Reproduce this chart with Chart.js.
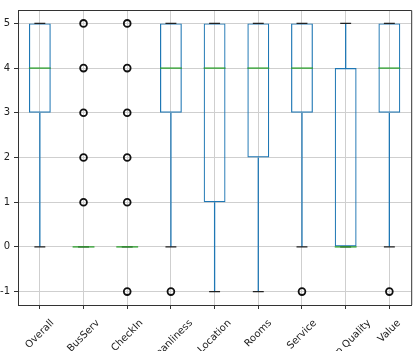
<!DOCTYPE html>
<html>
<head>
<meta charset="utf-8">
<script src="https://cdn.jsdelivr.net/npm/chart.js@4"></script>
<style>
  body { margin: 0; background: #fff; overflow: hidden; }
</style>
</head>
<body>
<canvas id="myChart" width="417" height="351"></canvas>
<script>
// box plot data, one entry per category
const categories = ['Overall', 'BusServ', 'CheckIn', 'Cleanliness', 'Location', 'Rooms', 'Service', 'Sleep Quality', 'Value'];
const whiskerLow = [0, 0, 0, 0, -1, -1, 0, 0, 0];
const quartile1 = [3, 0, 0, 3, 1, 2, 3, 0, 3];
const medians = [4, 0, 0, 4, 4, 4, 4, 0, 4];
const quartile3 = [5, 0, 0, 5, 5, 5, 5, 4, 5];
const whiskerHigh = [5, 0, 0, 5, 5, 5, 5, 5, 5];
const outliers = [[], [1, 2, 3, 4, 5], [-1, 1, 2, 3, 4, 5], [-1], [], [], [-1], [], [-1]];
const yTicks = [-1, 0, 1, 2, 3, 4, 5];

const blue = '#1f77b4';
const green = '#2ca02c';
const gridColor = '#cfcfcf';
const axisColor = '#333';
const font = { family: 'DejaVu Sans', size: 10 };

// outlier points as {x,y} on the category axis
const outlierPoints = [];
outliers.forEach((list, i) => {
    list.forEach(v => outlierPoints.push({ x: categories[i], y: v }));
});

// whiskers, caps, medians and the frame
const boxParts = {
    id: 'boxParts',
    beforeDatasetsDraw(chart) {
        const ctx = chart.ctx;
        const x = chart.scales.x, y = chart.scales.y;
        ctx.save();
        ctx.strokeStyle = blue;
        ctx.lineWidth = 1.3;
        for (let i = 0; i < categories.length; i++) {
            const px = x.getPixelForValue(i);
            ctx.beginPath();
            ctx.moveTo(px, y.getPixelForValue(whiskerLow[i]));
            ctx.lineTo(px, y.getPixelForValue(quartile1[i]));
            ctx.moveTo(px, y.getPixelForValue(quartile3[i]));
            ctx.lineTo(px, y.getPixelForValue(whiskerHigh[i]));
            ctx.stroke();
        }
        ctx.restore();
    },
    afterDatasetDraw(chart, args) {
        if (args.index !== 0) return;
        const ctx = chart.ctx;
        const x = chart.scales.x, y = chart.scales.y;
        const bars = chart.getDatasetMeta(0).data;
        ctx.save();
        for (let i = 0; i < categories.length; i++) {
            const px = x.getPixelForValue(i);
            const w = bars[i].width;
            // caps
            ctx.strokeStyle = '#222';
            ctx.lineWidth = 1.3;
            ctx.beginPath();
            [whiskerLow[i], whiskerHigh[i]].forEach(v => {
                const py = y.getPixelForValue(v);
                ctx.moveTo(px - w / 4, py);
                ctx.lineTo(px + w / 4, py);
            });
            ctx.stroke();
            // median
            ctx.strokeStyle = green;
            ctx.lineWidth = 1.3;
            const my = y.getPixelForValue(medians[i]);
            ctx.beginPath();
            ctx.moveTo(px - w / 2, my);
            ctx.lineTo(px + w / 2, my);
            ctx.stroke();
        }
        ctx.restore();
    },
    afterDraw(chart) {
        const ctx = chart.ctx;
        const area = chart.chartArea;
        const x = chart.scales.x;
        ctx.save();
        // top and right spines
        ctx.strokeStyle = axisColor;
        ctx.lineWidth = 1;
        ctx.beginPath();
        ctx.moveTo(area.left, area.top + 0.5);
        ctx.lineTo(area.right + 0.5, area.top + 0.5);
        ctx.lineTo(area.right + 0.5, area.bottom);
        ctx.stroke();
        // rotated x labels, centred on the tick like matplotlib
        ctx.font = font.size + 'px ' + font.family;
        ctx.fillStyle = '#222';
        ctx.textAlign = 'center';
        ctx.textBaseline = 'middle';
        for (let i = 0; i < categories.length; i++) {
            const w = ctx.measureText(categories[i]).width;
            const half = (w + font.size) * Math.SQRT1_2 / 2;
            ctx.save();
            ctx.translate(x.getPixelForValue(i), area.bottom + 13 + half);
            ctx.rotate(-Math.PI / 4);
            ctx.fillText(categories[i], 0, 0);
            ctx.restore();
        }
        ctx.restore();
    }
};

const ctx = document.getElementById('myChart').getContext('2d');
const myChart = new Chart(ctx, {
    type: 'bar',
    data: {
        labels: categories,
        datasets: [{
            label: 'box',
            data: categories.map((c, i) => [quartile1[i], quartile3[i]]),
            backgroundColor: 'rgba(0,0,0,0)',
            borderColor: blue,
            borderWidth: 1.2,
            borderSkipped: false,
            barPercentage: 0.5,
            categoryPercentage: 1,
            order: 2
        }, {
            type: 'line',
            label: 'outliers',
            data: outlierPoints,
            showLine: false,
            pointStyle: 'circle',
            pointRadius: 3.4,
            pointBorderWidth: 1.8,
            pointBorderColor: '#111',
            pointBackgroundColor: 'rgba(0,0,0,0)',
            order: 1
        }]
    },
    options: {
        responsive: false,
        animation: false,
        layout: { padding: { top: 8, right: 3, left: 0, bottom: 0 } },
        plugins: {
            legend: { display: false },
            tooltip: { enabled: false }
        },
        scales: {
            x: {
                offset: true,
                grid: { offset: false, color: gridColor, tickColor: axisColor, tickLength: 4 },
                border: { color: axisColor },
                ticks: { display: false },
                afterFit: s => { s.height = 46; }
            },
            y: {
                min: -1.3,
                max: 5.3,
                afterBuildTicks: s => { s.ticks = yTicks.map(v => ({ value: v })); },
                grid: { color: gridColor, tickColor: axisColor, tickLength: 4 },
                border: { color: axisColor },
                ticks: { font: font, color: '#222', padding: 4 },
                afterFit: s => { s.width = 18; }
            }
        }
    },
    plugins: [boxParts]
});
</script>
</body>
</html>
